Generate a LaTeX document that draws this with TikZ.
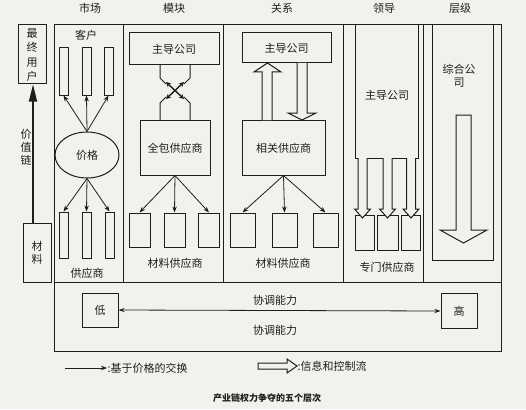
\documentclass[tikz,border=0pt]{standalone}
\usepackage{fontspec}
\newfontfamily\cjk{Noto Sans CJK SC}
\usetikzlibrary{arrows.meta,shapes.geometric}
\definecolor{bg}{RGB}{243,241,235}
\definecolor{ink}{RGB}{30,30,30}
\begin{document}
\begin{tikzpicture}[x=1pt,y=-1pt,line width=1pt,
  rbox/.style={draw=ink,line width=1pt,fill=bg,inner sep=0pt},
  txt/.style={font=\cjk\fontsize{11}{13}\selectfont,text=ink,inner sep=0pt},
  captxt/.style={font=\cjk\bfseries\fontsize{9}{10}\selectfont,text=ink,inner sep=0pt},
  arr/.style={draw=ink,-{Stealth[length=6pt,width=4.5pt]},line width=0.8pt},
  hol/.style={draw=ink,fill=bg,line width=1pt,line join=miter}]
\useasboundingbox (0,0) rectangle (526,409);
\fill[bg] (0,0) rectangle (526,409);

% headings
\node[txt] (h1) at (90,8) {市场};
\node[txt] (h2) at (174,8) {模块};
\node[txt] (h3) at (282,8) {关系};
\node[txt] (h4) at (384,8) {领导};
\node[txt] (h5) at (460,8) {层级};

% frames
\draw[draw=ink] (54,25) rectangle (501,282);
\foreach \x in {123,223,343,423} \draw[draw=ink] (\x,25) -- (\x,282);
\draw[draw=ink] (54,282) rectangle (501,351);

% value chain
\node[rbox,minimum width=28pt,minimum height=59pt] (user) at (32,54.5) {};
\node[txt,align=center] (usert) at (32,55) {最\\[1.5pt]终\\[1.5pt]用\\[1.5pt]户};
\node[rbox,minimum width=28pt,minimum height=59pt] (mat) at (37,252.5) {};
\node[txt,align=center] (matt) at (37,252.5) {材\\[0pt]料};
\coordinate (vs) at (33,223);
\draw[draw=ink,line width=1.3pt,-{Triangle[length=17pt,width=8pt]}] (vs) -- (vs |- user.south);
\node[txt,align=center] (vc) at (26,147) {价\\[0pt]值\\[0pt]链};

% market
\node[txt] (kh) at (86,35) {客户};
\node[rbox,minimum width=9pt,minimum height=47pt] (u1) at (63.5,71.5) {};
\node[rbox,minimum width=9pt,minimum height=47pt] (u2) at (86.5,71.5) {};
\node[rbox,minimum width=9pt,minimum height=47pt] (u3) at (108.5,71.5) {};
\node[draw=ink,ellipse,fill=bg,minimum width=64pt,minimum height=46pt,inner sep=0pt,txt] (pg) at (87,155) {价格};
\node[rbox,minimum width=9pt,minimum height=46pt] (l1) at (63.5,235) {};
\node[rbox,minimum width=9pt,minimum height=46pt] (l2) at (86.5,235) {};
\node[rbox,minimum width=9pt,minimum height=46pt] (l3) at (109.5,235) {};
\node[txt] (gys) at (87,273) {供应商};
\foreach \t in {u1,u2,u3} \draw[arr] (pg.north) -- (\t.south);
\foreach \t in {l1,l2,l3} \draw[arr] (pg.south) -- (\t.north);

% module
\node[rbox,minimum width=90pt,minimum height=32pt,txt] (mlead) at (174,49) {主导公司};
\node[rbox,minimum width=70pt,minimum height=55pt] (qb) at (175,147.5) {};
\node[txt] (qbt) at (175,148) {全包供应商};
\draw[draw=ink] (160,65) -- (160,78) -- (166,84);
\draw[draw=ink] (190,65) -- (190,78) -- (184,84);
\draw[draw=ink] (160,120) -- (160,103) -- (166,97);
\draw[draw=ink] (190,120) -- (190,103) -- (184,97);
\coordinate (xa) at (166,82); \coordinate (xb) at (184,99);
\coordinate (xc) at (184,82); \coordinate (xd) at (166,99);
\draw[draw=ink,line width=1.4pt,{Stealth[length=5pt,width=5pt]}-{Stealth[length=5pt,width=5pt]}] (xa) -- (xb);
\draw[draw=ink,line width=1.4pt,{Stealth[length=5pt,width=5pt]}-{Stealth[length=5pt,width=5pt]}] (xc) -- (xd);
\node[rbox,minimum width=21pt,minimum height=34pt] (m1) at (139.5,230) {};
\node[rbox,minimum width=21pt,minimum height=34pt] (m2) at (174.5,230) {};
\node[rbox,minimum width=21pt,minimum height=34pt] (m3) at (209,230) {};
\node[txt] (mgys) at (175,263) {材料供应商};
\foreach \t in {m1,m2,m3} \draw[arr] (qb.south) -- (\t.north);

% relation
\node[rbox,minimum width=89pt,minimum height=30pt,txt] (rlead) at (286.5,48) {主导公司};
\node[rbox,minimum width=83pt,minimum height=55pt] (rs) at (283.5,147.5) {};
\node[txt] (rst) at (283.5,148) {相关供应商};
\draw[hol] (262,120) -- (262,72) -- (254,72) -- (267.5,63) -- (281,72) -- (272,72) -- (272,120);
\draw[hol] (297,63) -- (297,113) -- (288,113) -- (302,120) -- (316,113) -- (307,113) -- (307,63);
\node[rbox,minimum width=25pt,minimum height=34pt] (r1) at (242.5,230) {};
\node[rbox,minimum width=25pt,minimum height=34pt] (r2) at (284.5,230) {};
\node[rbox,minimum width=25pt,minimum height=34pt] (r3) at (325.5,230) {};
\node[txt] (rgys) at (283,263) {材料供应商};
\foreach \t in {r1,r2,r3} \draw[arr] (rs.south) -- (\t.north);

% leader
\node[rbox,minimum width=63pt,minimum height=133pt] (llead) at (386.5,91.5) {};
\node[txt] (lleadt) at (387,95) {主导公司};
\node[rbox,minimum width=19pt,minimum height=35pt] (d1) at (364.5,232.5) {};
\node[rbox,minimum width=21pt,minimum height=35pt] (d2) at (387.5,232.5) {};
\node[rbox,minimum width=19pt,minimum height=35pt] (d3) at (410.5,232.5) {};
\foreach \c in {362.5,387.5,411}
  \draw[hol] (\c-4.5,158) -- (\c-4.5,209) -- (\c-8,209) -- (\c,218) -- (\c+8,209) -- (\c+4.5,209) -- (\c+4.5,158);
\node[txt] (zmgys) at (387,267) {专门供应商};

% hierarchy
\node[rbox,minimum width=61pt,minimum height=235pt] (hlead) at (462.5,142.5) {};
\node[txt,align=center] (hleadt) at (459,76) {综合公\\司};
\draw[hol] (456,115) -- (471,115) -- (471,230) -- (487,230) -- (463.5,243) -- (440,230) -- (456,230) -- cycle;

% bottom
\node[rbox,minimum width=36pt,minimum height=34pt,txt] (low) at (100,310) {低};
\node[rbox,minimum width=36pt,minimum height=35pt,txt] (high) at (459,311) {高};
\draw[draw=ink,line width=0.8pt,{Stealth[length=6pt,width=4pt]}-{Stealth[length=6pt,width=4pt]}] (low.east) -- (high.west);
\node[txt] (xt1) at (275,300) {协调能力};
\node[txt] (xt2) at (275,330) {协调能力};

% legend
\coordinate (la) at (65,368); \coordinate (lb) at (107,368);
\draw[arr] (la) -- (lb);
\node[txt,anchor=west] (lt1) at (lb) {:基于价格的交换};
\draw[hol] (258,363) -- (287,363) -- (287,359) -- (297,366) -- (287,373) -- (287,369) -- (258,369) -- cycle;
\coordinate (lc) at (297,366);
\node[txt,anchor=west] (lt2) at (lc) {:信息和控制流};

\node[captxt] (caption) at (267,398) {产业链权力争夺的五个层次};
\end{tikzpicture}
\end{document}
